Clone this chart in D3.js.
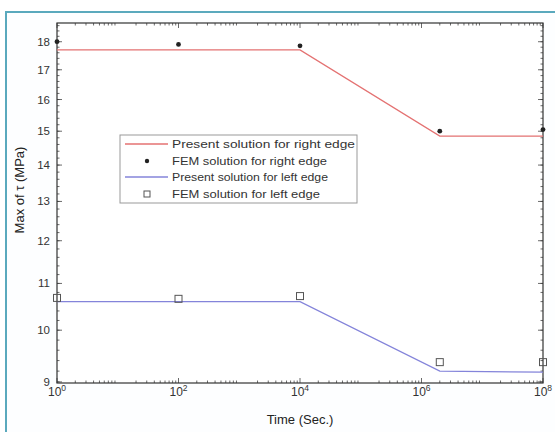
<!DOCTYPE html>
<html><head><meta charset="utf-8">
<script src="https://cdn.jsdelivr.net/npm/d3@7"></script>
<style>body{margin:0;background:#fff;}svg{display:block;font-family:"Liberation Sans",Arial,sans-serif;}</style>
</head><body><svg id="c" width="555" height="432"></svg>
<script>
const times = [1, 100, 1e4, 2e6, 1e8];
const presentRight = [17.7, 17.7, 17.7, 14.85, 14.85];
const femRight = [18.0, 17.9, 17.85, 15.0, 15.05];
const presentLeft = [10.6, 10.6, 10.6, 9.2, 9.18];
const femLeft = [10.68, 10.66, 10.72, 9.37, 9.37];
const xTickExps = [0, 2, 4, 6, 8];
const yTicks = [9, 10, 11, 12, 13, 14, 15, 16, 17, 18];
const legendLabels = ["Present solution for right edge","FEM solution for right edge","Present solution for left edge","FEM solution for left edge"];

const svg = d3.select("#c");
svg.append("rect").attr("x",6).attr("y",12).attr("width",560).attr("height",430)
  .attr("fill","#fdfeff").attr("stroke","#5aa9bd").attr("stroke-width",2);

const L=57,R=543,T=23,B=383;
const x = d3.scaleLog().domain([1,1e8]).range([L,R]);
const y = d3.scaleLog().domain([8.98,18.7]).range([B,T]);

const g = svg.append("g");
g.append("rect").attr("x",L).attr("y",T).attr("width",R-L).attr("height",B-T).attr("fill","#fff");

const xMinor=[];
for(let e=0;e<8;e++) for(let k=2;k<=9;k++) xMinor.push(k*Math.pow(10,e));
const yMinor=[]; for(let v=9;v<=18.6;v=Math.round((v+0.2)*10)/10) yMinor.push(v);
const tk = g.append("g").attr("stroke","#444").attr("stroke-width",0.8);
xMinor.forEach(v=>{const px=x(v);
  tk.append("line").attr("x1",px).attr("x2",px).attr("y1",B).attr("y2",B-2.5);
  tk.append("line").attr("x1",px).attr("x2",px).attr("y1",T).attr("y2",T+2.5);});
xTickExps.forEach(e=>{const px=x(Math.pow(10,e));
  tk.append("line").attr("x1",px).attr("x2",px).attr("y1",B).attr("y2",B-5);
  tk.append("line").attr("x1",px).attr("x2",px).attr("y1",T).attr("y2",T+5);});
yMinor.forEach(v=>{const py=y(v);
  tk.append("line").attr("x1",L).attr("x2",L+2.5).attr("y1",py).attr("y2",py);
  tk.append("line").attr("x1",R).attr("x2",R-2.5).attr("y1",py).attr("y2",py);});
yTicks.forEach(v=>{const py=y(v);
  tk.append("line").attr("x1",L).attr("x2",L+5).attr("y1",py).attr("y2",py);
  tk.append("line").attr("x1",R).attr("x2",R-5).attr("y1",py).attr("y2",py);});

g.append("rect").attr("x",L).attr("y",T).attr("width",R-L).attr("height",B-T)
  .attr("fill","none").attr("stroke","#333").attr("stroke-width",1.2);

yTicks.forEach(v=>{
  g.append("text").attr("x",L-7).attr("y",y(v)+4).attr("text-anchor","end")
   .attr("font-size",11.5).attr("fill","#333").text(v);
});
xTickExps.forEach(e=>{
  const t=g.append("text").attr("x",x(Math.pow(10,e))).attr("y",396).attr("text-anchor","middle")
   .attr("font-size",12).attr("fill","#333");
  t.append("tspan").text("10");
  t.append("tspan").attr("dy",-5).attr("font-size",8.5).text(e);
});
g.append("text").attr("x",300).attr("y",424).attr("text-anchor","middle").attr("font-size",13)
  .attr("fill","#222").text("Time (Sec.)");
g.append("text").attr("transform","translate(24,190) rotate(-90)").attr("text-anchor","middle")
  .attr("font-size",13).attr("fill","#222").text("Max of τ (MPa)");

const line = d3.line().x(d=>x(d[0])).y(d=>y(d[1]));
const redC="#e47272", blueC="#8484da";
g.append("path").datum(times.map((t,i)=>[t,presentRight[i]])).attr("d",line)
  .attr("fill","none").attr("stroke",redC).attr("stroke-width",1.3);
g.append("path").datum(times.map((t,i)=>[t,presentLeft[i]])).attr("d",line)
  .attr("fill","none").attr("stroke",blueC).attr("stroke-width",1.3);

times.forEach((t,i)=>{
  g.append("circle").attr("cx",x(t)).attr("cy",y(femRight[i])).attr("r",2.4).attr("fill","#222");
  g.append("rect").attr("x",x(t)-3.5).attr("y",y(femLeft[i])-3.5).attr("width",7).attr("height",7)
   .attr("fill","none").attr("stroke","#555").attr("stroke-width",1);
});

const lg = g.append("g");
lg.append("rect").attr("x",120).attr("y",135).attr("width",237).attr("height",68)
  .attr("fill","#fff").attr("stroke","#999").attr("stroke-width",1);
const rowsY=[144,161,177,194];
const textW=[183,155,156,148];
legendLabels.forEach((lab,i)=>{
  const yy=rowsY[i];
  if(i===0||i===2){
    lg.append("line").attr("x1",125).attr("x2",168).attr("y1",yy).attr("y2",yy)
      .attr("stroke",i===0?redC:blueC).attr("stroke-width",1.3);
  } else if(i===1){
    lg.append("circle").attr("cx",147).attr("cy",yy).attr("r",2.2).attr("fill","#222");
  } else {
    lg.append("rect").attr("x",144).attr("y",yy-3).attr("width",6).attr("height",6)
      .attr("fill","none").attr("stroke","#555");
  }
  lg.append("text").attr("x",172).attr("y",yy+4).attr("font-size",11).attr("fill","#333")
    .attr("textLength",textW[i]).attr("lengthAdjust","spacingAndGlyphs").text(lab);
});
</script></body></html>
